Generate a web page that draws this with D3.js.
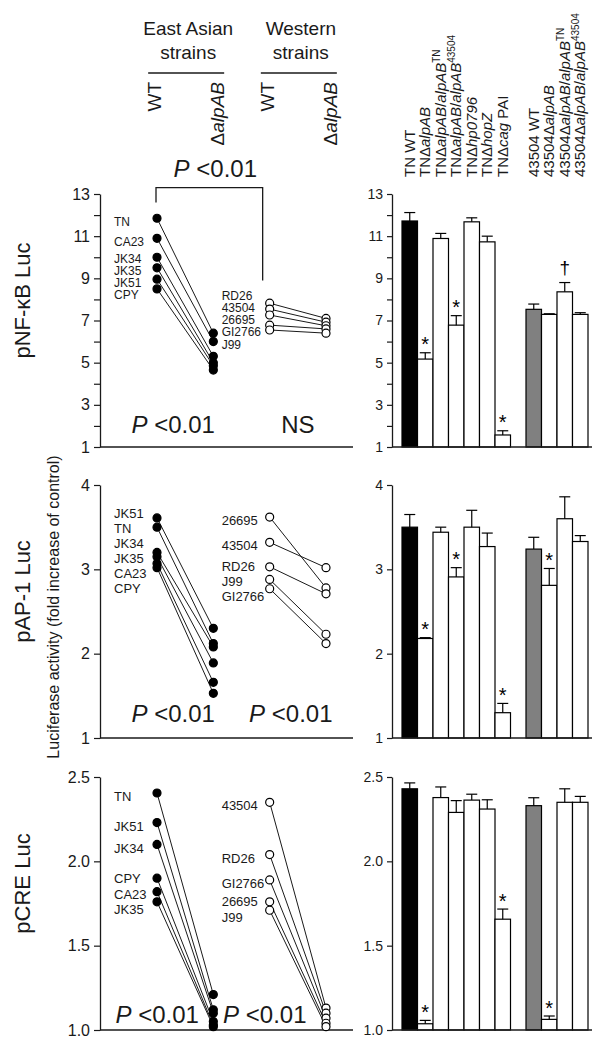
<!DOCTYPE html>
<html><head><meta charset="utf-8">
<script src="https://cdn.jsdelivr.net/npm/d3@7"></script>
<style>
body{margin:0;background:#fff}
svg{display:block;font-family:"Liberation Sans",Arial,sans-serif}
</style>
</head><body>
<svg id="c" width="600" height="1050"></svg>
<script>
// ---------------- DATA ----------------
const panelNames = ["pNF-κB Luc", "pAP-1 Luc", "pCRE Luc"];
const yLabel = "Luciferase activity (fold increase of control)";
const groupTitles = [["East Asian", "strains"], ["Western", "strains"]];
const conditionNames = ["WT", "Δ", "alpAB"];
const yDomains = [[1, 13], [1, 4], [1, 2.5]];
const yTicks = [[1,2,3,4,5,6,7,8,9,10,11,12,13], [1,2,3,4], [1,1.5,2,2.5]];
const yTickLabels = [["1","","3","","5","","7","","9","","11","","13"], ["1","2","3","4"], ["1.0","1.5","2.0","2.5"]];

// panel 1 : pNF-kB
const east1Names = ["TN","CA23","JK34","JK35","JK51","CPY"];
const east1WT = [11.85, 10.9, 10.0, 9.5, 8.96, 8.5];
const east1KO = [6.4, 6.0, 5.3, 5.0, 4.85, 4.65];
const west1Names = ["RD26","43504","26695","GI2766","J99"];
const west1WT = [7.82, 7.54, 7.26, 6.78, 6.55];
const west1KO = [7.1, 6.92, 6.75, 6.6, 6.4];
const bars1 = [11.72, 5.17, 10.89, 6.78, 11.68, 10.73, 1.57, 7.53, 7.29, 8.36, 7.29];
const err1  = [0.4, 0.3, 0.24, 0.45, 0.19, 0.27, 0.2, 0.25, 0.03, 0.44, 0.08];
const marks1 = [[1,"*"],[3,"*"],[6,"*"],[9,"†"]];
const pText1 = ["P <0.01", "NS"];

// panel 2 : pAP-1
const east2Names = ["JK51","TN","JK34","JK35","CA23","CPY"];
const east2WT = [3.61, 3.5, 3.2, 3.15, 3.07, 3.02];
const east2KO = [2.3, 2.12, 2.08, 1.89, 1.66, 1.53];
const west2Names = ["26695","43504","RD26","J99","GI2766"];
const west2WT = [3.62, 3.32, 3.03, 2.88, 2.77];
const west2KO = [2.78, 3.02, 2.71, 2.23, 2.12];
const bars2 = [3.5, 2.18, 3.44, 2.91, 3.5, 3.27, 1.30, 3.24, 2.81, 3.6, 3.33];
const err2  = [0.15, 0.01, 0.06, 0.11, 0.2, 0.16, 0.11, 0.14, 0.2, 0.26, 0.07];
const marks2 = [[1,"*"],[3,"*"],[6,"*"],[8,"*"]];
const pText2 = ["P <0.01", "P <0.01"];

// panel 3 : pCRE
const east3Names = ["TN","JK51","JK34","CPY","CA23","JK35"];
const east3WT = [2.405, 2.23, 2.10, 1.90, 1.82, 1.76];
const east3KO = [1.21, 1.12, 1.10, 1.05, 1.03, 1.02];
const west3Names = ["43504","RD26","GI2766","26695","J99"];
const west3WT = [2.35, 2.04, 1.89, 1.76, 1.71];
const west3KO = [1.13, 1.10, 1.07, 1.04, 1.02];
const bars3 = [2.43, 1.037, 2.378, 2.29, 2.363, 2.31, 1.657, 2.33, 1.063, 2.35, 2.35];
const err3  = [0.035, 0.02, 0.063, 0.07, 0.035, 0.055, 0.06, 0.047, 0.02, 0.08, 0.035];
const marks3 = [[1,"*"],[6,"*"],[8,"*"]];
const pText3 = ["P <0.01", "P <0.01"];

// bar categories (segments: n = normal, i = italic, s = superscript)
const barLabels = [
  [["TN WT","n"]],
  [["TNΔ","n"],["alpAB","i"]],
  [["TNΔ","n"],["alpAB","i"],["/","n"],["alpAB","i"],["TN","s"]],
  [["TNΔ","n"],["alpAB","i"],["/","n"],["alpAB","i"],["43504","s"]],
  [["TNΔ","n"],["hp0796","i"]],
  [["TNΔ","n"],["hopZ","i"]],
  [["TNΔ","n"],["cag","i"],[" PAI","n"]],
  [["43504 WT","n"]],
  [["43504Δ","n"],["alpAB","i"]],
  [["43504Δ","n"],["alpAB","i"],["/","n"],["alpAB","i"],["TN","s"]],
  [["43504Δ","n"],["alpAB","i"],["/","n"],["alpAB","i"],["43504","s"]]
];
const barKinds = ["tn","m","m","m","m","m","m","ref","m","m","m"];
const bracketValues = [12.6, 13.3, 8.9]; // left foot, top, right foot (panel 1 units)
const bracketText = "P <0.01";

const panels = [
  {east:{names:east1Names, wt:east1WT, ko:east1KO}, west:{names:west1Names, wt:west1WT, ko:west1KO}, bars:bars1, err:err1, marks:marks1, p:pText1},
  {east:{names:east2Names, wt:east2WT, ko:east2KO}, west:{names:west2Names, wt:west2WT, ko:west2KO}, bars:bars2, err:err2, marks:marks2, p:pText2},
  {east:{names:east3Names, wt:east3WT, ko:east3KO}, west:{names:west3Names, wt:west3WT, ko:west3KO}, bars:bars3, err:err3, marks:marks3, p:pText3}
];

// ---------------- LAYOUT ----------------
const svg = d3.select("#c");
const INK = "#1a1a1a";
const panelRanges = [[447,194],[738,485],[1030,777]];
const labelGap = [[12.3,12.3],[15,15],[15.5,15.5]];
const labelFont = [12, 13, 13];
const pOffsets = [[-12,0,-14],[-12,-7,-16],[-28,-33,-7]];
const leftAxisX = 100, leftEnd = 353, rightAxisX = 392, rightEnd = 592;

const xLeft = d3.scalePoint().domain(["eWT","eKO","wWT","wKO"]).range([157, 326]);
const xBar = d3.scaleBand().domain(d3.range(12)).range([402, 588]).paddingInner(0);
const slot = i => i < 7 ? i : i + 1;
const fills = {tn:"#000", ref:"#808080", m:"#fff"};

function styleAxis(sel, fs){
  sel.select(".domain").attr("stroke", INK).attr("stroke-width", 1.3);
  sel.selectAll(".tick line").attr("stroke", INK).attr("stroke-width", 1.2);
  sel.selectAll(".tick text").attr("fill", INK).style("font-size", fs + "px").style("font-family", '"Liberation Sans",Arial,sans-serif');
}

function dodge(ys, gap){
  const order = d3.range(ys.length).sort((a,b)=>ys[a]-ys[b]);
  const clusters = [];
  order.forEach(i=>{
    clusters.push({idx:[i], sum:ys[i]});
    while(clusters.length > 1){
      const a = clusters[clusters.length-2], b = clusters[clusters.length-1];
      const aEnd = a.sum/a.idx.length + (a.idx.length-1)*gap/2;
      const bStart = b.sum/b.idx.length - (b.idx.length-1)*gap/2;
      if (bStart - aEnd < gap){ a.idx = a.idx.concat(b.idx); a.sum += b.sum; clusters.pop(); }
      else break;
    }
  });
  const out = [];
  clusters.forEach(c=>{
    const m = c.sum/c.idx.length;
    c.idx.forEach((i,j)=> out[i] = m - (c.idx.length-1)*gap/2 + j*gap);
  });
  return out;
}

function pLabel(g, x, y, txt, fs){
  const t = g.append("text").attr("x", x).attr("y", y).attr("text-anchor","middle")
    .style("font-size", fs + "px").attr("fill", INK);
  if (txt.startsWith("P")) {
    t.append("tspan").style("font-style","italic").text("P");
    t.append("tspan").text(txt.slice(1));
  } else t.text(txt);
}

panels.forEach((P, k) => {
  const y = d3.scaleLinear().domain(yDomains[k]).range(panelRanges[k]);
  const g = svg.append("g");
  const base = y(yDomains[k][0]);

  // ----- left (paired) panel -----
  const axL = d3.axisLeft(y).tickValues(yTicks[k]).tickFormat((d,i)=>yTickLabels[k][i])
    .tickSize(6).tickSizeOuter(0).tickPadding(4);
  g.append("g").attr("transform",`translate(${leftAxisX},0)`).call(axL).call(styleAxis, 16);
  g.append("line").attr("x1", leftAxisX).attr("x2", leftEnd).attr("y1", base).attr("y2", base)
    .attr("stroke", INK).attr("stroke-width", 1.3);

  [["east","eWT","eKO",true],["west","wWT","wKO",false]].forEach(([key,a,b,filled], gi) => {
    const S = P[key];
    const lg = g.append("g");
    S.wt.forEach((v,i)=>{
      lg.append("line").attr("x1", xLeft(a)).attr("y1", y(v)).attr("x2", xLeft(b)).attr("y2", y(S.ko[i]))
        .attr("stroke", INK).attr("stroke-width", 1);
    });
    const pts = S.wt.map(v=>[xLeft(a), y(v)]).concat(S.ko.map(v=>[xLeft(b), y(v)]));
    lg.selectAll("circle").data(pts).join("circle")
      .attr("cx", d=>d[0]).attr("cy", d=>d[1]).attr("r", 4)
      .attr("fill", filled ? "#000" : "#fff").attr("stroke", "#000").attr("stroke-width", 1.2);
    const ly = dodge(S.wt.map(v=>y(v)+3.5), labelGap[k][gi]);
    const lx = xLeft(a) - (filled ? 43 : 48);
    lg.selectAll("text").data(S.names).join("text")
      .attr("x", lx).attr("y", (d,i)=>ly[i]).attr("dy","0.35em")
      .style("font-size", labelFont[k] + "px").attr("fill", INK).text(d=>d);
  });

  // P labels
  const eC = (xLeft("eWT")+xLeft("eKO"))/2, wC = (xLeft("wWT")+xLeft("wKO"))/2;
  pLabel(g, eC + pOffsets[k][0], base + pOffsets[k][2], P.p[0], 24);
  pLabel(g, wC + pOffsets[k][1], base + pOffsets[k][2], P.p[1], 24);

  // ----- right (bar) panel -----
  const axR = d3.axisLeft(y).tickValues(yTicks[k]).tickFormat((d,i)=>yTickLabels[k][i])
    .tickSize(5).tickSizeOuter(0).tickPadding(4);
  g.append("g").attr("transform",`translate(${rightAxisX},0)`).call(axR).call(styleAxis, 14);

  const bw = xBar.bandwidth();
  const bg = g.append("g");
  bg.selectAll("rect").data(P.bars).join("rect")
    .attr("x", (d,i)=>xBar(slot(i))).attr("width", bw)
    .attr("y", d=>y(d)).attr("height", d=>base - y(d))
    .attr("fill", (d,i)=>fills[barKinds[i]]).attr("stroke", "#000").attr("stroke-width", 1.2);
  P.bars.forEach((v,i)=>{
    const cx = xBar(slot(i)) + bw/2, top = y(v + P.err[i]);
    bg.append("line").attr("x1",cx).attr("x2",cx).attr("y1",y(v)).attr("y2",top).attr("stroke","#000").attr("stroke-width",1.2);
    bg.append("line").attr("x1",cx-5.5).attr("x2",cx+5.5).attr("y1",top).attr("y2",top).attr("stroke","#000").attr("stroke-width",1.2);
  });
  P.marks.forEach(([i,sym])=>{
    const cx = xBar(slot(i)) + bw/2, top = y(P.bars[i] + P.err[i]);
    bg.append("text").attr("x", cx).attr("y", sym === "*" ? top - 1.5 : top - 9)
      .attr("text-anchor","middle").style("font-size", sym === "*" ? "20px" : "19px")
      .attr("fill","#000").text(sym);
  });
  g.append("line").attr("x1", rightAxisX).attr("x2", rightEnd).attr("y1", base).attr("y2", base)
    .attr("stroke", INK).attr("stroke-width", 1.3);

  // panel title
  const mid = (panelRanges[k][0] + panelRanges[k][1]) / 2 - 20;
  svg.append("text").attr("transform",`translate(30,${mid}) rotate(-90)`).attr("text-anchor","middle")
    .style("font-size","22px").attr("fill", INK).text(panelNames[k]);

  // bracket on panel 1
  if (k === 0) {
    const xl = xLeft("eWT") - 1, xr = xLeft("wWT") - 7;
    const path = d3.path();
    path.moveTo(xl, y(bracketValues[0])); path.lineTo(xl, y(bracketValues[1]));
    path.lineTo(xr, y(bracketValues[1])); path.lineTo(xr, y(bracketValues[2]));
    svg.append("path").attr("d", path.toString()).attr("fill","none").attr("stroke", INK).attr("stroke-width", 1.3);
    pLabel(svg, (xl + xr)/2 + 6, 177, bracketText, 24);
  }
});

// y label
svg.append("text").attr("transform","translate(59,607) rotate(-90)").attr("text-anchor","middle")
  .style("font-size","16px").attr("fill", INK).text(yLabel);

// header for paired panels
[["eWT","eKO"],["wWT","wKO"]].forEach(([a,b], gi)=>{
  const c = (xLeft(a) + xLeft(b))/2 + 1;
  const h = svg.append("g");
  h.append("text").attr("x", c + 2).attr("y", 35).attr("text-anchor","middle").style("font-size","19px").attr("fill",INK).text(groupTitles[gi][0]);
  h.append("text").attr("x", c + 2).attr("y", 59).attr("text-anchor","middle").style("font-size","19px").attr("fill",INK).text(groupTitles[gi][1]);
  h.append("line").attr("x1", c - 38).attr("x2", c + 38).attr("y1", 73).attr("y2", 73).attr("stroke", INK).attr("stroke-width", 1.3);
  h.append("text").attr("transform",`translate(${c - 38 + 6 + 7},82) rotate(-90)`).attr("text-anchor","end")
    .style("font-size","19px").attr("fill",INK).text(conditionNames[0]);
  const t = h.append("text").attr("transform",`translate(${c + 38 - 7 + 7},82) rotate(-90)`).attr("text-anchor","end")
    .style("font-size","19px").attr("fill",INK);
  t.append("tspan").text(conditionNames[1]);
  t.append("tspan").style("font-style","italic").text(conditionNames[2]);
});

// rotated bar labels
const bwid = xBar.bandwidth();
barLabels.forEach((segs, i)=>{
  const x = xBar(slot(i)) + bwid/2 + 5;
  const t = svg.append("text").attr("transform",`translate(${x},177) rotate(-90)`).attr("text-anchor","start")
    .style("font-size","15px").attr("fill", INK);
  segs.forEach(([s, st])=>{
    const ts = t.append("tspan").text(s);
    if (st === "i") ts.style("font-style","italic");
    if (st === "s") ts.style("font-size","10px").attr("dy","-0.6em");
  });
});
</script>
</body></html>
